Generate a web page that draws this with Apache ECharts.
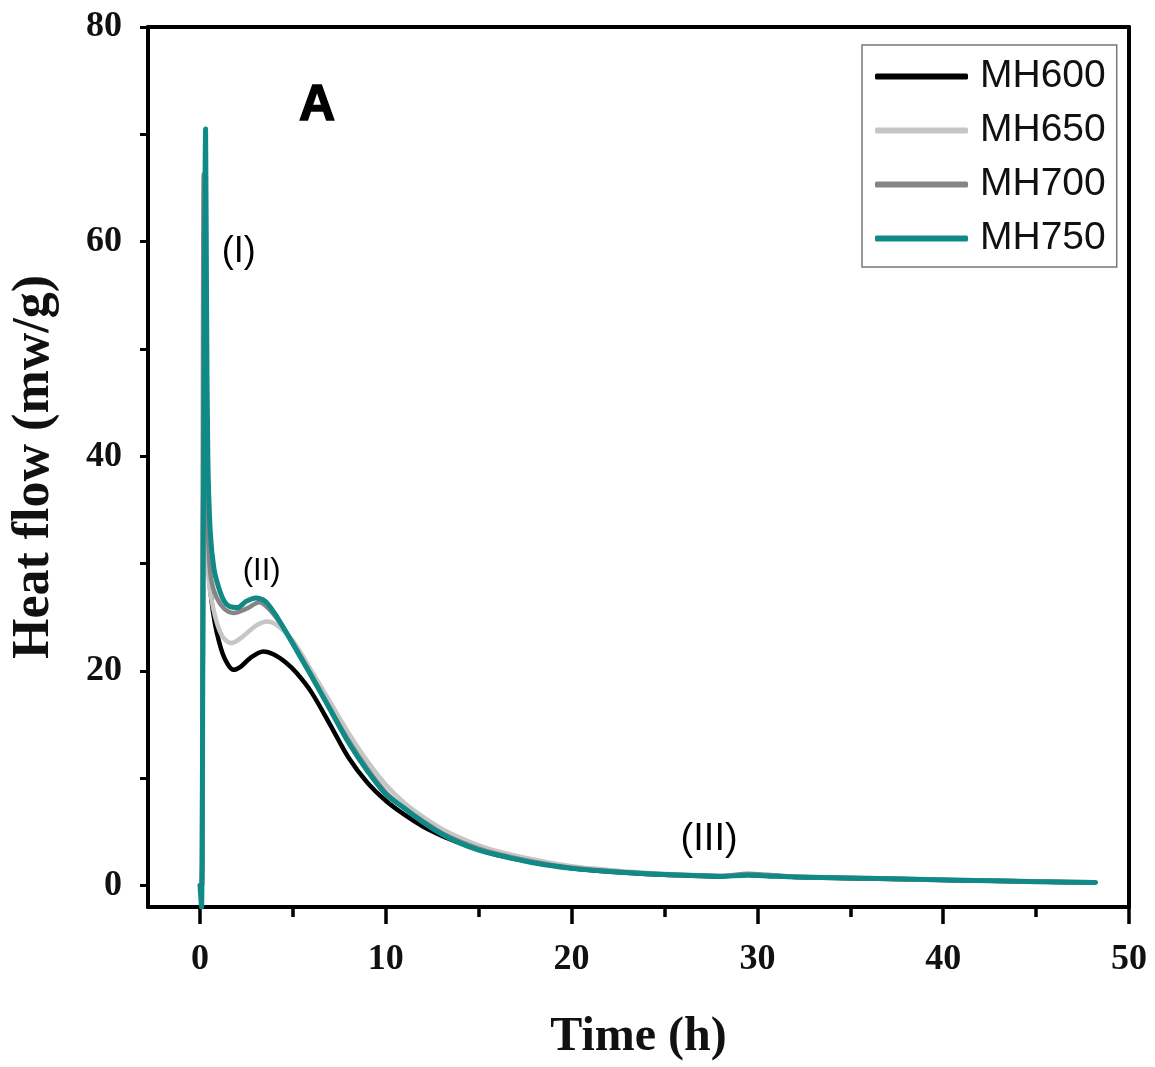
<!DOCTYPE html>
<html>
<head>
<meta charset="utf-8">
<script src="https://cdn.jsdelivr.net/npm/echarts@6.0.0/dist/echarts.min.js"></script>
<style>html,body{margin:0;padding:0;background:#fff;}#c{width:1155px;height:1067px;}</style>
</head>
<body>
<div id="c"></div>
<script>
// ---- data ----
const seriesNames = ['MH600', 'MH650', 'MH700', 'MH750'];

const timeMH600 = [0, 0.1, 0.2, 0.35, 0.5, 0.7, 0.9, 1.2, 1.5, 1.8, 2.2, 2.7, 3.4, 4.0, 4.6, 5.2, 6, 7, 8, 9, 10, 11, 12, 13, 14, 15, 16, 18, 20, 22, 24, 26, 28, 29.5, 30.5, 32, 35, 38, 41, 44, 46, 48];
const heatMH600 = [0, 0, 40, 33, 28.5, 25.5, 23.6, 21.7, 20.6, 20.1, 20.4, 21.2, 21.8, 21.5, 20.8, 19.8, 18.0, 15.0, 11.9, 9.6, 7.9, 6.6, 5.5, 4.65, 3.95, 3.35, 2.85, 2.15, 1.62, 1.3, 1.08, 0.95, 0.85, 1.0, 0.92, 0.8, 0.68, 0.58, 0.48, 0.4, 0.34, 0.28];

const timeMH650 = [0, 0.1, 0.2, 0.35, 0.5, 0.73, 1.0, 1.3, 1.7, 2.3, 3.0, 3.6, 4.2, 5, 6, 7, 8, 9, 10, 11, 12, 13, 14, 15, 16, 18, 20, 22, 24, 26, 28, 29.5, 30.5, 32, 35, 38, 41, 44, 46, 48];
const heatMH650 = [0, 0, 44.4, 33, 28, 25.7, 24.0, 23.0, 22.6, 23.2, 24.2, 24.6, 24.2, 22.8, 20.0, 17.1, 14.2, 11.6, 9.4, 7.7, 6.4, 5.3, 4.45, 3.75, 3.2, 2.4, 1.8, 1.45, 1.2, 1.03, 0.92, 1.05, 0.95, 0.85, 0.72, 0.62, 0.52, 0.42, 0.36, 0.3];

const timeMH700 = [0, 0.08, 0.2, 0.3, 0.45, 0.6, 0.9, 1.3, 1.8, 2.5, 3.2, 3.8, 4.5, 5, 6, 7, 8, 9, 10, 11, 12, 13, 14, 15, 16, 18, 20, 22, 24, 26, 28, 29.5, 30.5, 32, 35, 38, 41, 44, 46, 48];
const heatMH700 = [0, -1, 66.3, 45, 32, 28.5, 26.8, 25.8, 25.4, 25.8, 26.4, 25.6, 24.0, 22.6, 19.6, 16.5, 13.5, 10.9, 8.7, 7.2, 6.0, 4.9, 4.1, 3.45, 2.95, 2.2, 1.65, 1.35, 1.12, 0.98, 0.88, 1.1, 1.0, 0.82, 0.7, 0.6, 0.5, 0.4, 0.35, 0.3];

const timeMH750 = [0, 0.08, 0.15, 0.22, 0.3, 0.35, 0.42, 0.55, 0.75, 1.0, 1.3, 1.6, 2.0, 2.5, 3.0, 3.5, 4.0, 4.5, 5, 6, 7, 8, 9, 10, 11, 12, 13, 14, 15, 16, 18, 20, 22, 24, 26, 28, 29.5, 30.5, 32, 35, 38, 41, 44, 46, 48.2];
const heatMH750 = [0, -2, 20, 50, 70.5, 55, 40, 33, 29.5, 27.8, 26.5, 26.0, 25.9, 26.5, 26.8, 26.5, 25.4, 24.0, 22.5, 19.5, 16.4, 13.3, 10.7, 8.5, 7.2, 5.9, 4.8, 3.95, 3.3, 2.85, 2.1, 1.6, 1.3, 1.1, 0.95, 0.85, 0.95, 0.9, 0.8, 0.7, 0.6, 0.5, 0.4, 0.33, 0.28];

const xMajorTicks = [0, 10, 20, 30, 40, 50];
const xMinorTicks = [5, 15, 25, 35, 45];
const yTicks = [0, 10, 20, 30, 40, 50, 60, 70, 80];
const yTickLabels = [0, 20, 40, 60, 80];

const noteLabels = ['A', '(I)', '(II)', '(III)'];
const noteX = [6.3, 2.08, 3.32, 27.4];
const noteY = [72.6, 59.0, 29.3, 4.3];

// ---- chart ----
const colors = ['#000000', '#c6c6c6', '#858585', '#108a87'];
const widths = [4.5, 4.5, 4.5, 5];
const times = [timeMH600, timeMH650, timeMH700, timeMH750];
const heats = [heatMH600, heatMH650, heatMH700, heatMH750];

const serif = 'Liberation Serif';
const sans = 'Liberation Sans';

const lineSeries = seriesNames.map((name, i) => ({
  name: name,
  type: 'line',
  xAxisIndex: 0,
  yAxisIndex: 0,
  showSymbol: false,
  symbol: 'none',
  smooth: 0.3,
  lineStyle: { color: colors[i], width: widths[i], cap: 'round', join: 'round' },
  itemStyle: { color: colors[i] },
  data: times[i].map((t, k) => [t, heats[i][k]]),
  z: 2 + i
}));

const noteStyles = [
  { fontSize: 50, fontWeight: 'bold', fontFamily: sans, textBorderColor: '#000', textBorderWidth: 1.5 },
  { fontSize: 36, fontWeight: 'normal', fontFamily: sans },
  { fontSize: 31, fontWeight: 'normal', fontFamily: sans },
  { fontSize: 38, fontWeight: 'normal', fontFamily: sans }
];

const noteSeries = {
  type: 'scatter',
  xAxisIndex: 0,
  yAxisIndex: 0,
  symbolSize: 0,
  silent: true,
  z: 10,
  itemStyle: { opacity: 1 },
  data: noteLabels.map((lab, i) => ({
    value: [noteX[i], noteY[i]],
    label: Object.assign({ show: true, position: 'inside', formatter: lab, color: '#000' }, noteStyles[i])
  }))
};

const gridBox = { left: 148, right: 26, top: 27, bottom: 160, containLabel: false };

const chart = echarts.init(document.getElementById('c'), null, { renderer: 'canvas' });
chart.setOption({
  animation: false,
  backgroundColor: '#ffffff',
  grid: [Object.assign({}, gridBox), Object.assign({}, gridBox)],
  legend: {
    data: seriesNames,
    orient: 'vertical',
    left: 862,
    top: 45,
    padding: [9, 11, 6, 13],
    itemWidth: 93,
    itemHeight: 6,
    itemGap: 9,
    icon: 'roundRect',
    borderColor: '#777777',
    borderWidth: 1.5,
    textStyle: { fontFamily: sans, fontSize: 39, color: '#111111', lineHeight: 45, padding: [0, 0, 0, 7] }
  },
  xAxis: [
    {
      type: 'value', gridIndex: 0, position: 'bottom', min: -2.8, max: 50,
      name: 'Time (h)', nameLocation: 'middle', nameGap: 107,
      nameTextStyle: { fontFamily: serif, fontWeight: 'bold', fontSize: 48, color: '#111' },
      axisLine: { show: true, onZero: false, lineStyle: { color: '#000', width: 4 } },
      axisTick: { show: true, inside: false, customValues: xMajorTicks, length: 17, lineStyle: { color: '#000', width: 3.5 } },
      axisLabel: { show: true, customValues: xMajorTicks, margin: 35, fontFamily: serif, fontWeight: 'bold', fontSize: 36, color: '#111' },
      splitLine: { show: false }
    },
    {
      type: 'value', gridIndex: 0, position: 'top', min: -2.8, max: 50,
      axisLine: { show: true, onZero: false, lineStyle: { color: '#000', width: 4 } },
      axisTick: { show: false }, axisLabel: { show: false }, splitLine: { show: false }
    },
    {
      type: 'value', gridIndex: 1, position: 'bottom', min: -2.8, max: 50,
      axisLine: { show: true, onZero: false, lineStyle: { color: '#000', width: 4 } },
      axisTick: { show: true, inside: false, customValues: xMinorTicks, length: 10, lineStyle: { color: '#000', width: 3.5 } },
      axisLabel: { show: false },
      splitLine: { show: false }
    }
  ],
  yAxis: [
    {
      type: 'value', gridIndex: 0, position: 'left', min: -2, max: 80,
      name: 'Heat flow (mw/g)', nameLocation: 'middle', nameGap: 87, nameRotate: 90,
      nameTextStyle: { fontFamily: serif, fontWeight: 'bold', fontSize: 52, color: '#111' },
      axisLine: { show: true, onZero: false, lineStyle: { color: '#000', width: 4 } },
      axisTick: { show: true, customValues: yTicks, length: 8, lineStyle: { color: '#000', width: 3 } },
      axisLabel: { show: true, customValues: yTickLabels, margin: 26, fontFamily: serif, fontWeight: 'bold', fontSize: 36, color: '#111' },
      splitLine: { show: false }
    },
    {
      type: 'value', gridIndex: 0, position: 'right', min: -2, max: 80,
      axisLine: { show: true, onZero: false, lineStyle: { color: '#000', width: 4 } },
      axisTick: { show: false }, axisLabel: { show: false }, splitLine: { show: false }
    },
    {
      type: 'value', gridIndex: 1, position: 'left', min: 0, max: 1, show: false
    }
  ],
  series: lineSeries.concat([noteSeries])
});
</script>
</body>
</html>
